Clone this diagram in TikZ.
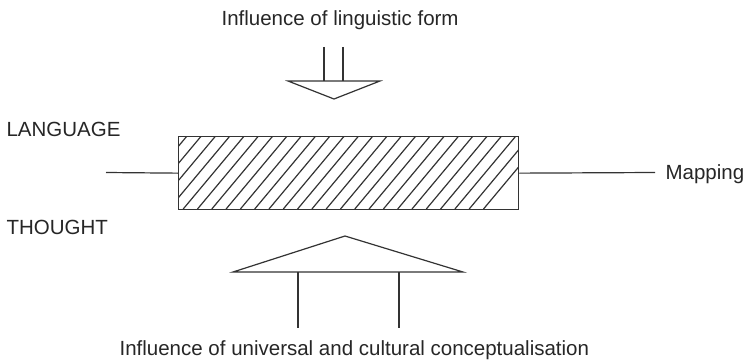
\documentclass[tikz,border=0pt]{standalone}
\usepackage{fontspec}
\setmainfont{Liberation Sans}
\begin{document}
\begin{tikzpicture}[x=1pt,y=-1pt,line width=1.2pt,draw=black!80,
  lbl/.style={anchor=base west,inner sep=0pt,font=\fontsize{20.5}{24}\selectfont,text=black!85},
  conn/.style={draw=black!80,line width=1.2pt}]
\useasboundingbox (0,0) rectangle (746,361);
% box
\node[draw=black!80,line width=1.3pt,minimum width=340pt,minimum height=73pt,inner sep=0pt,anchor=north west] (box) at (178,136) {};
\begin{scope}
  \clip (178,136) rectangle (518,209);
  \foreach \k in {-1,...,25} {
    \draw[line width=1.2pt] ({187+14.3*\k-61},209) -- ({187+14.3*\k},136);
  }
\end{scope}
\node[draw=black!80,line width=1.3pt,minimum width=340pt,minimum height=73pt,inner sep=0pt,anchor=north west] at (178,136) {};
% mapping lines
\coordinate (lend) at (106,172.5);
\coordinate (rend) at (655,172.5);
\draw[conn] (lend) -- (box.west);
\draw[conn] (box.east) -- (rend);
% labels
\node[lbl] (top) at (221,26) {Influence of linguistic form};
\node[lbl] (lang) at (6,136) {LANGUAGE};
\node[lbl] (thought) at (6,234) {THOUGHT};
\node[lbl] (map) at (665,179) {Mapping};
\node[lbl] (bot) at (119,355) {Influence of universal and cultural conceptualisation};
% top arrow
\coordinate (ts1) at (324,47);
\coordinate (ts2) at (343,47);
\coordinate (tb1) at (324,81);
\coordinate (tb2) at (343,81);
\coordinate (tl) at (288,81);
\coordinate (tr) at (380,81);
\coordinate (tapex) at (334,99);
\draw[conn] (ts1) -- (tb1);
\draw[conn] (ts2) -- (tb2);
\draw[conn,line join=miter] (tl) -- (tr) -- (tapex) -- cycle;
% bottom arrow
\coordinate (bl) at (233,272);
\coordinate (br) at (463,272);
\coordinate (bapex) at (345,236);
\coordinate (bs1) at (298,272);
\coordinate (bs2) at (399,272);
\coordinate (be1) at (298,328);
\coordinate (be2) at (399,328);
\draw[conn] (bl) -- (br) -- (bapex) -- cycle;
\draw[conn] (bs1) -- (be1);
\draw[conn] (bs2) -- (be2);
\end{tikzpicture}
\end{document}
